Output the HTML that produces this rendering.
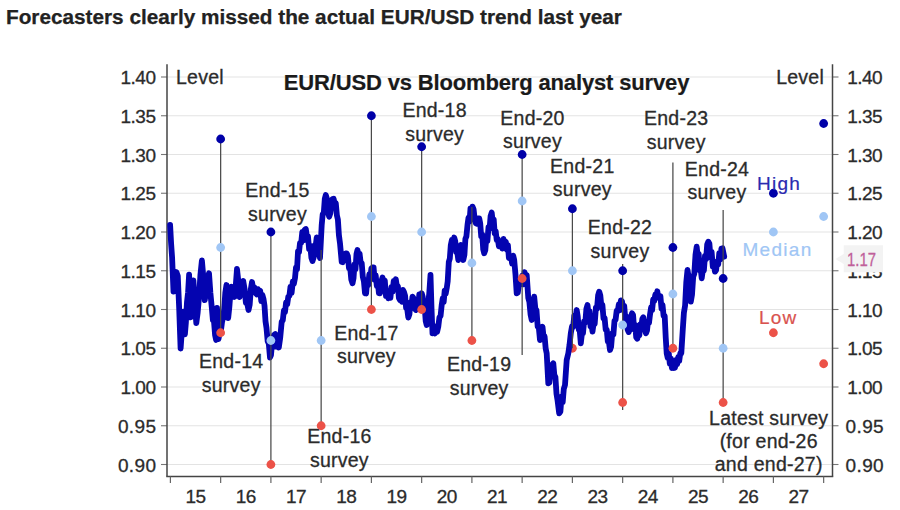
<!DOCTYPE html>
<html><head><meta charset="utf-8"><style>
html,body{margin:0;padding:0;background:#fff;}
body{width:900px;height:510px;overflow:hidden;position:relative;font-family:"Liberation Sans",sans-serif;}
svg{position:absolute;left:0;top:0;font-family:"Liberation Sans",sans-serif;}
.ax{font-size:19px;fill:#2b2b2b;letter-spacing:-0.5px;stroke:#2b2b2b;stroke-width:0.3px;}
.yl{font-size:19px;fill:#2b2b2b;letter-spacing:-0.5px;stroke:#2b2b2b;stroke-width:0.3px;}
.lb{font-size:19.5px;fill:#2b2b2b;letter-spacing:0.25px;stroke:#2b2b2b;stroke-width:0.3px;}
</style></head><body>
<svg width="900" height="510" viewBox="0 0 900 510">
<text x="6" y="24" style="font-weight:bold;font-size:20.75px;fill:#222;stroke:#222;stroke-width:0.25px">Forecasters clearly missed the actual EUR/USD trend last year</text>
<line x1="161" y1="77.00" x2="167" y2="77.00" stroke="#777" stroke-width="1.1"/><line x1="167" y1="77.00" x2="832.5" y2="77.00" stroke="#e3e3e3" stroke-width="1.2"/><line x1="832.5" y1="77.00" x2="838.5" y2="77.00" stroke="#777" stroke-width="1.1"/><text x="155.5" y="84.00" text-anchor="end" class="yl">1.40</text><text x="847.2" y="84.00" class="yl">1.40</text><line x1="161" y1="115.75" x2="167" y2="115.75" stroke="#777" stroke-width="1.1"/><line x1="167" y1="115.75" x2="832.5" y2="115.75" stroke="#e3e3e3" stroke-width="1.2"/><line x1="832.5" y1="115.75" x2="838.5" y2="115.75" stroke="#777" stroke-width="1.1"/><text x="155.5" y="122.75" text-anchor="end" class="yl">1.35</text><text x="847.2" y="122.75" class="yl">1.35</text><line x1="161" y1="154.50" x2="167" y2="154.50" stroke="#777" stroke-width="1.1"/><line x1="167" y1="154.50" x2="832.5" y2="154.50" stroke="#e3e3e3" stroke-width="1.2"/><line x1="832.5" y1="154.50" x2="838.5" y2="154.50" stroke="#777" stroke-width="1.1"/><text x="155.5" y="161.50" text-anchor="end" class="yl">1.30</text><text x="847.2" y="161.50" class="yl">1.30</text><line x1="161" y1="193.25" x2="167" y2="193.25" stroke="#777" stroke-width="1.1"/><line x1="167" y1="193.25" x2="832.5" y2="193.25" stroke="#e3e3e3" stroke-width="1.2"/><line x1="832.5" y1="193.25" x2="838.5" y2="193.25" stroke="#777" stroke-width="1.1"/><text x="155.5" y="200.25" text-anchor="end" class="yl">1.25</text><text x="847.2" y="200.25" class="yl">1.25</text><line x1="161" y1="232.00" x2="167" y2="232.00" stroke="#777" stroke-width="1.1"/><line x1="167" y1="232.00" x2="832.5" y2="232.00" stroke="#e3e3e3" stroke-width="1.2"/><line x1="832.5" y1="232.00" x2="838.5" y2="232.00" stroke="#777" stroke-width="1.1"/><text x="155.5" y="239.00" text-anchor="end" class="yl">1.20</text><text x="847.2" y="239.00" class="yl">1.20</text><line x1="161" y1="270.75" x2="167" y2="270.75" stroke="#777" stroke-width="1.1"/><line x1="167" y1="270.75" x2="832.5" y2="270.75" stroke="#e3e3e3" stroke-width="1.2"/><line x1="832.5" y1="270.75" x2="838.5" y2="270.75" stroke="#777" stroke-width="1.1"/><text x="155.5" y="277.75" text-anchor="end" class="yl">1.15</text><text x="847.2" y="277.75" class="yl">1.15</text><line x1="161" y1="309.50" x2="167" y2="309.50" stroke="#777" stroke-width="1.1"/><line x1="167" y1="309.50" x2="832.5" y2="309.50" stroke="#e3e3e3" stroke-width="1.2"/><line x1="832.5" y1="309.50" x2="838.5" y2="309.50" stroke="#777" stroke-width="1.1"/><text x="155.5" y="316.50" text-anchor="end" class="yl">1.10</text><text x="847.2" y="316.50" class="yl">1.10</text><line x1="161" y1="348.25" x2="167" y2="348.25" stroke="#777" stroke-width="1.1"/><line x1="167" y1="348.25" x2="832.5" y2="348.25" stroke="#e3e3e3" stroke-width="1.2"/><line x1="832.5" y1="348.25" x2="838.5" y2="348.25" stroke="#777" stroke-width="1.1"/><text x="155.5" y="355.25" text-anchor="end" class="yl">1.05</text><text x="847.2" y="355.25" class="yl">1.05</text><line x1="161" y1="387.00" x2="167" y2="387.00" stroke="#777" stroke-width="1.1"/><line x1="167" y1="387.00" x2="832.5" y2="387.00" stroke="#e3e3e3" stroke-width="1.2"/><line x1="832.5" y1="387.00" x2="838.5" y2="387.00" stroke="#777" stroke-width="1.1"/><text x="155.5" y="394.00" text-anchor="end" class="yl">1.00</text><text x="847.2" y="394.00" class="yl">1.00</text><line x1="161" y1="425.75" x2="167" y2="425.75" stroke="#777" stroke-width="1.1"/><line x1="167" y1="425.75" x2="832.5" y2="425.75" stroke="#e3e3e3" stroke-width="1.2"/><line x1="832.5" y1="425.75" x2="838.5" y2="425.75" stroke="#777" stroke-width="1.1"/><text x="156.5" y="432.75" text-anchor="end" class="yl" style="letter-spacing:0.4px">0.95</text><text x="845.5" y="432.75" class="yl" style="letter-spacing:0.4px">0.95</text><line x1="161" y1="464.50" x2="167" y2="464.50" stroke="#777" stroke-width="1.1"/><line x1="167" y1="464.50" x2="832.5" y2="464.50" stroke="#e3e3e3" stroke-width="1.2"/><line x1="832.5" y1="464.50" x2="838.5" y2="464.50" stroke="#777" stroke-width="1.1"/><text x="156.5" y="471.50" text-anchor="end" class="yl" style="letter-spacing:0.4px">0.90</text><text x="845.5" y="471.50" class="yl" style="letter-spacing:0.4px">0.90</text><line x1="167" y1="64.3" x2="167" y2="476.5" stroke="#444" stroke-width="1.5"/><line x1="832.5" y1="64.3" x2="832.5" y2="476.5" stroke="#444" stroke-width="1.5"/><line x1="166.25" y1="476.5" x2="833.25" y2="476.5" stroke="#444" stroke-width="1.5"/><line x1="170.40" y1="476.5" x2="170.40" y2="483" stroke="#666" stroke-width="1.2"/><text x="195.55" y="502.5" text-anchor="middle" class="ax">15</text><line x1="220.65" y1="476.5" x2="220.65" y2="483" stroke="#666" stroke-width="1.2"/><text x="245.80" y="502.5" text-anchor="middle" class="ax">16</text><line x1="270.90" y1="476.5" x2="270.90" y2="483" stroke="#666" stroke-width="1.2"/><text x="296.05" y="502.5" text-anchor="middle" class="ax">17</text><line x1="321.15" y1="476.5" x2="321.15" y2="483" stroke="#666" stroke-width="1.2"/><text x="346.30" y="502.5" text-anchor="middle" class="ax">18</text><line x1="371.40" y1="476.5" x2="371.40" y2="483" stroke="#666" stroke-width="1.2"/><text x="396.55" y="502.5" text-anchor="middle" class="ax">19</text><line x1="421.65" y1="476.5" x2="421.65" y2="483" stroke="#666" stroke-width="1.2"/><text x="446.80" y="502.5" text-anchor="middle" class="ax">20</text><line x1="471.90" y1="476.5" x2="471.90" y2="483" stroke="#666" stroke-width="1.2"/><text x="497.05" y="502.5" text-anchor="middle" class="ax">21</text><line x1="522.15" y1="476.5" x2="522.15" y2="483" stroke="#666" stroke-width="1.2"/><text x="547.30" y="502.5" text-anchor="middle" class="ax">22</text><line x1="572.40" y1="476.5" x2="572.40" y2="483" stroke="#666" stroke-width="1.2"/><text x="597.55" y="502.5" text-anchor="middle" class="ax">23</text><line x1="622.65" y1="476.5" x2="622.65" y2="483" stroke="#666" stroke-width="1.2"/><text x="647.80" y="502.5" text-anchor="middle" class="ax">24</text><line x1="672.90" y1="476.5" x2="672.90" y2="483" stroke="#666" stroke-width="1.2"/><text x="698.05" y="502.5" text-anchor="middle" class="ax">25</text><line x1="723.15" y1="476.5" x2="723.15" y2="483" stroke="#666" stroke-width="1.2"/><text x="748.30" y="502.5" text-anchor="middle" class="ax">26</text><line x1="773.40" y1="476.5" x2="773.40" y2="483" stroke="#666" stroke-width="1.2"/><text x="798.55" y="502.5" text-anchor="middle" class="ax">27</text><line x1="823.65" y1="476.5" x2="823.65" y2="483" stroke="#666" stroke-width="1.2"/>
<text x="176" y="84" class="lb">Level</text>
<text x="824" y="84" text-anchor="end" class="lb">Level</text>
<text x="486.5" y="89.5" text-anchor="middle" style="font-weight:bold;font-size:22px;fill:#1a1a1a;letter-spacing:-0.15px;stroke:#1a1a1a;stroke-width:0.2px">EUR/USD vs Bloomberg analyst survey</text>
<text x="434.6" y="117" text-anchor="middle" class="lb">End-18</text><text x="434.6" y="140.5" text-anchor="middle" class="lb">survey</text><text x="532.5" y="124.5" text-anchor="middle" class="lb">End-20</text><text x="532.5" y="148.0" text-anchor="middle" class="lb">survey</text><text x="582.3" y="172.5" text-anchor="middle" class="lb">End-21</text><text x="582.3" y="196.0" text-anchor="middle" class="lb">survey</text><text x="676.2" y="125" text-anchor="middle" class="lb">End-23</text><text x="676.2" y="148.5" text-anchor="middle" class="lb">survey</text><text x="717" y="175.5" text-anchor="middle" class="lb">End-24</text><text x="717" y="199.0" text-anchor="middle" class="lb">survey</text><text x="277.5" y="197.4" text-anchor="middle" class="lb">End-15</text><text x="277.5" y="220.9" text-anchor="middle" class="lb">survey</text><text x="620" y="234.3" text-anchor="middle" class="lb">End-22</text><text x="620" y="257.8" text-anchor="middle" class="lb">survey</text><text x="366.4" y="339.5" text-anchor="middle" class="lb">End-17</text><text x="366.4" y="363.0" text-anchor="middle" class="lb">survey</text><text x="231.2" y="368.4" text-anchor="middle" class="lb">End-14</text><text x="231.2" y="391.9" text-anchor="middle" class="lb">survey</text><text x="479.1" y="371.2" text-anchor="middle" class="lb">End-19</text><text x="479.1" y="394.7" text-anchor="middle" class="lb">survey</text><text x="339.4" y="443.2" text-anchor="middle" class="lb">End-16</text><text x="339.4" y="466.7" text-anchor="middle" class="lb">survey</text>
<circle cx="572.40" cy="348.25" r="4.4" fill="#ec5248"/>
<path d="M170.1 225.0 L171.1 243.3 L172.1 257.6 L173.5 291.7 L175.0 271.8 L176.4 272.1 L177.8 276.0 L179.2 308.8 L180.6 348.5 L182.1 327.6 L183.5 311.6 L184.9 334.3 L185.9 322.2 L187.0 302.0 L188.1 292.2 L189.1 274.7 L190.6 317.3 L192.0 300.6 L193.4 280.3 L194.9 305.2 L196.3 323.0 L197.7 312.3 L199.0 297.4 L200.4 275.1 L201.9 260.5 L203.4 277.8 L204.8 300.2 L205.9 291.7 L206.9 292.2 L207.9 277.7 L209.0 273.2 L210.4 292.9 L211.9 308.8 L212.9 320.2 L214.0 321.3 L215.1 335.2 L216.1 340.0 L217.0 308.0 L218.5 339.0 L219.8 332.0 L221.0 330.0 L222.0 322.2 L223.0 318.0 L224.2 309.1 L225.3 292.8 L226.5 285.0 L228.2 318.0 L229.3 307.4 L230.5 292.0 L231.6 286.8 L232.6 287.0 L234.4 297.0 L235.7 286.5 L237.0 269.0 L238.3 280.8 L239.7 297.0 L241.5 283.0 L243.2 281.0 L244.6 289.1 L245.9 303.0 L247.2 303.1 L248.5 310.0 L249.7 304.6 L250.8 289.4 L252.0 282.0 L253.2 289.1 L254.4 287.4 L255.6 293.0 L256.8 294.4 L257.9 289.1 L259.1 292.0 L260.2 290.8 L261.3 301.1 L262.4 294.9 L263.5 299.0 L264.5 305.6 L265.5 321.3 L266.5 328.0 L267.7 341.4 L268.8 343.8 L270.0 357.5 L271.0 355.1 L272.0 343.6 L273.0 343.9 L274.0 335.0 L275.2 334.1 L276.4 346.6 L277.6 342.1 L278.8 347.5 L280.2 337.8 L281.7 321.7 L282.8 320.2 L283.9 310.4 L285.0 312.0 L286.1 302.4 L287.2 304.3 L288.3 296.7 L289.4 295.8 L290.5 286.7 L291.6 292.9 L292.8 281.5 L293.9 283.8 L295.0 278.0 L296.0 267.3 L297.0 269.3 L298.0 251.5 L299.0 252.3 L300.0 243.0 L301.2 242.7 L302.3 231.8 L303.5 240.4 L304.6 229.8 L305.8 229.0 L306.9 236.5 L308.0 236.4 L309.1 249.1 L310.3 245.8 L311.4 257.9 L312.5 261.0 L313.6 257.7 L314.6 245.5 L315.6 246.3 L316.7 237.5 L317.8 241.1 L318.9 254.0 L320.0 258.0 L321.7 225.0 L322.7 214.3 L323.8 212.6 L324.8 198.7 L325.8 195.0 L326.9 198.5 L328.1 213.0 L329.2 216.7 L330.3 213.4 L331.4 203.1 L332.5 199.0 L333.6 198.7 L334.7 203.6 L335.8 203.3 L336.9 215.3 L337.9 219.7 L338.9 235.0 L340.0 243.3 L341.7 262.0 L342.7 262.2 L343.7 255.8 L344.7 260.5 L345.7 253.4 L346.7 253.3 L347.9 256.2 L349.0 268.2 L350.2 268.0 L351.3 279.7 L352.5 283.3 L353.5 278.5 L354.5 264.5 L355.5 269.3 L356.5 253.9 L357.5 250.0 L358.6 255.1 L359.6 253.7 L360.6 262.2 L361.7 263.0 L362.8 276.7 L363.9 281.2 L365.0 293.3 L366.1 293.5 L367.1 281.6 L368.2 285.2 L369.3 274.2 L370.4 277.4 L371.4 268.3 L372.5 267.5 L373.6 267.5 L374.6 279.8 L375.7 275.2 L376.8 286.0 L377.9 282.9 L378.9 293.1 L380.0 293.3 L381.2 281.9 L382.5 277.5 L383.7 283.8 L384.8 280.5 L386.0 295.9 L387.1 290.5 L388.3 298.3 L389.4 292.0 L390.4 297.9 L391.5 286.9 L392.6 291.6 L393.7 281.0 L394.7 283.6 L395.8 279.2 L396.9 286.7 L397.9 286.3 L398.9 298.1 L400.0 300.0 L401.0 295.3 L402.0 301.8 L403.0 290.0 L404.0 292.0 L405.1 295.9 L406.1 307.9 L407.2 309.0 L408.3 317.5 L409.4 314.4 L410.4 302.5 L411.4 305.7 L412.5 296.7 L413.6 298.4 L414.7 308.7 L415.8 310.0 L417.0 304.9 L418.2 308.1 L419.3 294.3 L420.5 300.1 L421.7 293.3 L422.7 296.9 L423.7 309.0 L424.7 307.1 L425.7 321.1 L426.7 325.0 L428.0 304.4 L429.2 294.2 L430.5 275.0 L431.5 308.0 L432.5 333.3 L433.7 330.0 L434.8 333.5 L436.0 326.4 L437.1 331.8 L438.3 326.7 L439.4 317.5 L440.6 315.8 L441.7 305.0 L442.7 298.5 L443.7 302.0 L444.7 290.6 L445.7 293.6 L446.7 288.3 L447.7 281.4 L448.8 261.9 L449.8 258.7 L450.8 245.0 L451.9 239.9 L453.1 243.7 L454.2 237.5 L455.2 241.0 L456.2 252.1 L457.3 252.1 L458.3 260.0 L459.6 255.5 L460.8 245.0 L462.1 255.1 L463.3 260.0 L464.4 255.0 L465.4 238.8 L466.4 236.4 L467.5 225.0 L468.5 217.6 L469.5 221.6 L470.5 208.3 L471.5 213.2 L472.5 206.7 L473.6 209.4 L474.7 219.4 L475.8 223.3 L476.9 223.7 L478.1 218.4 L479.2 218.3 L480.2 223.3 L481.2 236.4 L482.2 234.3 L483.2 249.2 L484.2 253.3 L485.3 250.3 L486.3 237.2 L487.4 241.0 L488.5 227.2 L489.6 228.6 L490.6 216.1 L491.7 212.5 L492.7 221.5 L493.7 219.3 L494.7 233.4 L495.7 231.1 L496.7 240.0 L497.8 239.0 L498.9 246.4 L500.0 245.0 L501.2 241.5 L502.3 248.6 L503.5 239.0 L504.6 245.2 L505.8 241.7 L506.9 249.7 L507.9 245.1 L508.9 257.9 L510.0 258.3 L511.1 256.5 L512.1 263.6 L513.2 255.7 L514.2 260.0 L515.5 274.7 L516.7 293.3 L517.8 292.6 L518.9 284.9 L520.0 283.3 L521.1 283.7 L522.2 275.7 L523.4 284.4 L524.5 272.1 L525.6 278.4 L526.7 275.0 L528.3 298.0 L529.4 302.1 L530.6 314.6 L531.7 320.0 L533.0 304.4 L534.2 296.7 L535.4 309.2 L536.5 310.2 L537.7 326.8 L538.8 327.4 L540.0 340.0 L541.2 331.4 L542.5 326.7 L543.5 336.2 L544.6 336.4 L545.7 348.7 L546.7 353.3 L548.3 383.3 L549.3 382.6 L550.3 372.8 L551.3 375.7 L552.3 364.6 L553.3 363.3 L554.3 374.9 L555.4 377.0 L556.5 393.7 L557.5 400.0 L559.2 413.3 L560.4 411.6 L561.5 396.7 L562.7 402.2 L563.8 388.8 L565.0 385.0 L566.7 360.0 L568.3 353.3 L569.5 345.0 L570.8 333.3 L572.0 326.4 L573.2 326.8 L574.3 315.4 L575.5 318.4 L576.7 310.0 L577.7 316.1 L578.8 329.6 L579.8 331.2 L580.8 343.3 L581.9 333.6 L583.0 333.3 L584.1 321.5 L585.3 322.6 L586.4 308.8 L587.5 305.0 L588.5 314.2 L589.5 311.0 L590.5 326.3 L591.5 324.6 L592.5 331.7 L593.6 323.3 L594.7 323.9 L595.9 307.7 L597.0 308.7 L598.1 295.4 L599.2 291.7 L600.3 295.3 L601.4 306.2 L602.4 304.9 L603.5 318.3 L604.6 318.1 L605.7 329.7 L606.8 329.9 L607.8 341.5 L608.9 341.8 L610.0 350.0 L611.1 346.9 L612.2 333.5 L613.4 334.6 L614.5 320.8 L615.6 319.7 L616.7 310.7 L617.8 311.0 L618.8 304.5 L619.9 310.1 L620.9 300.3 L622.0 301.3 L623.1 309.2 L624.2 305.8 L625.4 319.4 L626.5 316.4 L627.6 329.5 L628.7 332.0 L629.8 329.4 L630.9 317.0 L632.0 313.3 L633.1 315.1 L634.1 329.4 L635.2 324.9 L636.2 337.2 L637.3 338.7 L638.3 332.0 L639.3 335.4 L640.3 324.3 L641.3 327.0 L642.3 319.0 L643.3 317.3 L644.6 328.7 L646.0 333.3 L647.0 330.6 L648.0 321.3 L649.0 323.0 L650.0 314.7 L651.1 307.5 L652.1 310.1 L653.2 299.4 L654.2 301.0 L655.3 294.7 L656.3 297.0 L657.3 291.3 L658.3 297.9 L659.3 296.0 L660.4 296.1 L661.5 308.4 L662.5 304.7 L663.6 315.9 L664.7 316.0 L665.7 337.1 L666.7 353.3 L667.7 357.9 L668.8 353.4 L669.8 363.8 L670.9 358.6 L671.9 368.0 L673.0 364.3 L674.0 368.0 L675.0 367.7 L676.1 360.0 L677.1 364.3 L678.2 357.1 L679.2 361.0 L680.3 353.2 L681.3 353.3 L682.7 330.7 L683.9 312.7 L685.1 305.5 L686.3 282.0 L687.5 270.0 L688.6 276.9 L689.7 293.7 L690.8 301.7 L692.0 294.7 L693.2 276.8 L694.3 273.7 L695.5 254.6 L696.7 246.7 L697.7 256.6 L698.7 253.7 L699.7 270.3 L700.7 268.6 L701.7 278.3 L702.8 270.3 L703.9 270.4 L705.0 255.8 L706.1 259.3 L707.2 244.3 L708.3 241.7 L709.4 243.7 L710.5 257.3 L711.6 251.8 L712.8 266.6 L713.9 264.5 L715.0 271.7 L716.1 270.3 L717.1 261.3 L718.2 264.4 L719.3 252.9 L720.4 259.4 L721.4 248.5 L722.5 248.3 L724.2 256.7" fill="none" stroke="#0404b0" stroke-width="5.8" stroke-linejoin="round" stroke-linecap="round"/>
<line x1="220.65" y1="139.00" x2="220.65" y2="332.75" stroke="#4a4a4a" stroke-width="1.25"/><line x1="270.90" y1="232.00" x2="270.90" y2="464.50" stroke="#4a4a4a" stroke-width="1.25"/><line x1="321.15" y1="250.00" x2="321.15" y2="425.75" stroke="#4a4a4a" stroke-width="1.25"/><line x1="371.40" y1="115.75" x2="371.40" y2="309.50" stroke="#4a4a4a" stroke-width="1.25"/><line x1="421.65" y1="146.75" x2="421.65" y2="309.50" stroke="#4a4a4a" stroke-width="1.25"/><line x1="471.90" y1="207.00" x2="471.90" y2="340.50" stroke="#4a4a4a" stroke-width="1.25"/><line x1="522.15" y1="154.50" x2="522.15" y2="355.00" stroke="#4a4a4a" stroke-width="1.25"/><line x1="572.40" y1="208.75" x2="572.40" y2="348.25" stroke="#4a4a4a" stroke-width="1.25"/><line x1="622.65" y1="264.00" x2="622.65" y2="410.00" stroke="#4a4a4a" stroke-width="1.25"/><line x1="672.90" y1="162.50" x2="672.90" y2="348.25" stroke="#4a4a4a" stroke-width="1.25"/><line x1="723.15" y1="210.00" x2="723.15" y2="402.50" stroke="#4a4a4a" stroke-width="1.25"/>
<circle cx="220.65" cy="139.00" r="4.4" fill="#0000a8"/><circle cx="220.65" cy="247.50" r="4.4" fill="#a0c6f5"/><circle cx="220.65" cy="332.75" r="4.4" fill="#ec5248"/><circle cx="270.90" cy="232.00" r="4.4" fill="#0000a8"/><circle cx="270.90" cy="340.50" r="4.4" fill="#a0c6f5"/><circle cx="270.90" cy="464.50" r="4.4" fill="#ec5248"/><circle cx="321.15" cy="340.50" r="4.4" fill="#a0c6f5"/><circle cx="321.15" cy="425.75" r="4.4" fill="#ec5248"/><circle cx="371.40" cy="115.75" r="4.4" fill="#0000a8"/><circle cx="371.40" cy="216.50" r="4.4" fill="#a0c6f5"/><circle cx="371.40" cy="309.50" r="4.4" fill="#ec5248"/><circle cx="421.65" cy="146.75" r="4.4" fill="#0000a8"/><circle cx="421.65" cy="232.00" r="4.4" fill="#a0c6f5"/><circle cx="421.65" cy="309.50" r="4.4" fill="#ec5248"/><circle cx="471.90" cy="263.00" r="4.4" fill="#a0c6f5"/><circle cx="471.90" cy="340.50" r="4.4" fill="#ec5248"/><circle cx="522.15" cy="154.50" r="4.4" fill="#0000a8"/><circle cx="522.15" cy="201.00" r="4.4" fill="#a0c6f5"/><circle cx="522.15" cy="278.50" r="4.4" fill="#ec5248"/><circle cx="572.40" cy="208.75" r="4.4" fill="#0000a8"/><circle cx="572.40" cy="270.75" r="4.4" fill="#a0c6f5"/><circle cx="622.65" cy="270.75" r="4.4" fill="#0000a8"/><circle cx="622.65" cy="325.00" r="4.4" fill="#a0c6f5"/><circle cx="622.65" cy="402.50" r="4.4" fill="#ec5248"/><circle cx="672.90" cy="247.50" r="4.4" fill="#0000a8"/><circle cx="672.90" cy="294.00" r="4.4" fill="#a0c6f5"/><circle cx="672.90" cy="348.25" r="4.4" fill="#ec5248"/><circle cx="723.15" cy="278.50" r="4.4" fill="#0000a8"/><circle cx="723.15" cy="348.25" r="4.4" fill="#a0c6f5"/><circle cx="723.15" cy="402.50" r="4.4" fill="#ec5248"/><circle cx="773.40" cy="193.25" r="4.4" fill="#0000a8"/><circle cx="773.40" cy="232.00" r="4.4" fill="#a0c6f5"/><circle cx="773.40" cy="332.75" r="4.4" fill="#ec5248"/><circle cx="823.65" cy="123.50" r="4.4" fill="#0000a8"/><circle cx="823.65" cy="216.50" r="4.4" fill="#a0c6f5"/><circle cx="823.65" cy="363.75" r="4.4" fill="#ec5248"/>
<text x="779" y="189.5" text-anchor="middle" style="font-size:19px;fill:#2a2ab0;letter-spacing:1.2px;stroke:#2a2ab0;stroke-width:0.2px">High</text>
<text x="777.5" y="255.5" text-anchor="middle" style="font-size:19px;fill:#a0c6f5;letter-spacing:1.3px;stroke:#a0c6f5;stroke-width:0.2px">Median</text>
<text x="778.3" y="324.4" text-anchor="middle" style="font-size:19px;fill:#d9534f;letter-spacing:1.2px;stroke:#d9534f;stroke-width:0.2px">Low</text>
<text x="768.7" y="424.8" text-anchor="middle" class="lb">Latest survey</text>
<text x="768.7" y="448" text-anchor="middle" class="lb">(for end-26</text>
<text x="768.7" y="471.2" text-anchor="middle" class="lb">and end-27)</text>
<path d="M835.5 259 L843.7 254 L843.7 245.3 L883 245.3 L883 272.3 L843.7 272.3 L843.7 264 Z" fill="#f3f3f3"/>
<text x="847" y="266.3" textLength="29" lengthAdjust="spacingAndGlyphs" style="font-size:19px;fill:#c0609a;stroke:#c0609a;stroke-width:0.3px">1.17</text>
</svg>
</body></html>
